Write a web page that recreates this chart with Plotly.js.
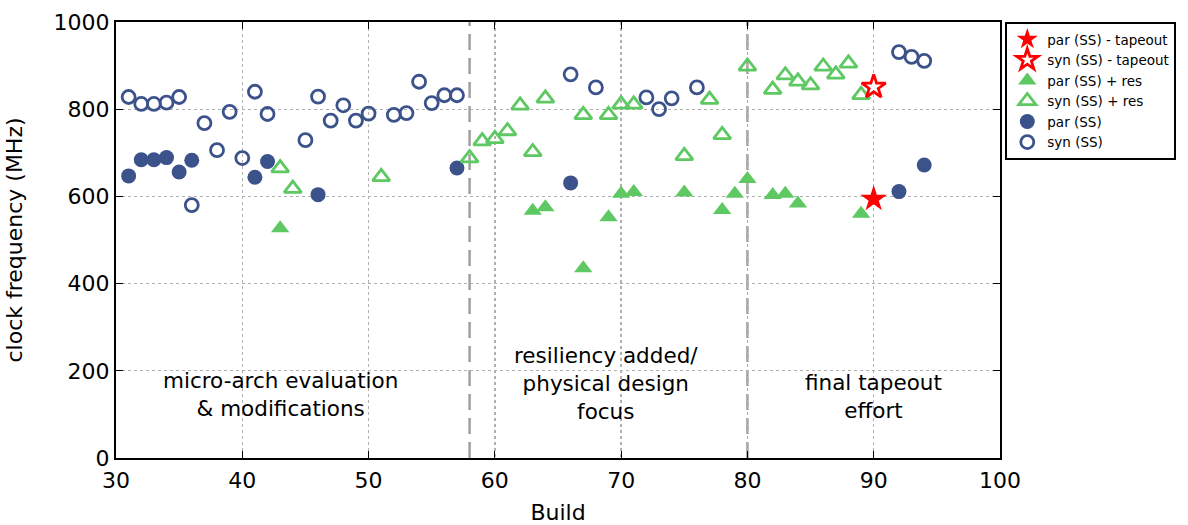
<!DOCTYPE html>
<html>
<head>
<meta charset="utf-8">
<script src="https://cdn.plot.ly/plotly-3.0.1.min.js"></script>
<style>html,body{margin:0;padding:0;background:#fff;}#chart{width:1188px;height:525px;}</style>
</head>
<body>
<div id="chart"></div>
<script>
// ---- data ----
const synBuild = [31,32,33,34,35,36,37,38,39,40,41,42,45,46,47,48,49,50,52,53,54,55,56,57,66,68,72,73,74,76,92,93,94];
const synFreq  = [828,812,812,815,828,580,768,706,794,688,840,789,729,829,774,809,774,790,787,791,863,814,832,832,880,850,827,800,825,850,931,920,911];

const parBuild = [31,32,33,34,35,36,41,42,46,57,66,92,94];
const parFreq  = [647,684,684,689,656,683,644,680,604,665,631,611,672];

const synResBuild = [43,44,51,58,59,60,61,62,63,64,67,69,70,71,75,77,78,80,82,83,84,85,86,87,88,89];
const synResFreq  = [665,618,645,688,727,732,750,809,702,825,787,787,811,811,693,822,741,898,845,878,864,855,898,880,905,833];

const parResBuild = [43,63,64,67,69,70,71,75,78,79,80,82,83,84,89];
const parResFreq  = [527,567,575,435,552,606,610,609,569,606,640,603,606,584,560];

const parTapeBuild = [90];
const parTapeFreq  = [594];
const synTapeBuild = [90];
const synTapeFreq  = [851];

const phaseBoundaries = [58, 80];
const phaseLabels = ["micro-arch evaluation<br>&amp; modifications", "resiliency added/<br>physical design<br>focus", "final tapeout<br>effort"];
const phaseLabelX = [43, 68.8, 90];
const phaseLabelY = [145, 170, 140];

const xTicks = [30,40,50,60,70,80,90,100];
const yTicks = [0,200,400,600,800,1000];

// ---- styles ----
const BLUE = '#3B528B';
const GREEN = '#5EC962';
const RED = '#FF0000';
const FONT = 'DejaVu Sans, sans-serif';

const traces = [
  {x: synBuild, y: synFreq, name: 'syn (SS)', legendrank: 6, mode: 'markers', type: 'scatter',
   marker: {symbol: 'circle-open', size: 13, color: BLUE, line: {width: 2.8, color: BLUE}}},
  {x: parBuild, y: parFreq, name: 'par (SS)', legendrank: 5, mode: 'markers', type: 'scatter',
   marker: {symbol: 'circle', size: 15, color: BLUE}},
  {x: synResBuild, y: synResFreq, name: 'syn (SS) + res', legendrank: 4, mode: 'markers', type: 'scatter',
   marker: {symbol: 'triangle-up-open', size: 15, color: GREEN, line: {width: 2.8, color: GREEN}}},
  {x: parResBuild, y: parResFreq, name: 'par (SS) + res', legendrank: 3, mode: 'markers', type: 'scatter',
   marker: {symbol: 'triangle-up', size: 16, color: GREEN}},
  {x: synTapeBuild, y: synTapeFreq, name: 'syn (SS) - tapeout', legendrank: 2, mode: 'markers', type: 'scatter',
   marker: {symbol: 'star', size: 18, color: '#ffffff', line: {width: 2.8, color: RED}}},
  {x: parTapeBuild, y: parTapeFreq, name: 'par (SS) - tapeout', legendrank: 1, mode: 'markers', type: 'scatter',
   marker: {symbol: 'star', size: 20, color: RED}}
];

const shapes = phaseBoundaries.map(b => ({
  type: 'line', xref: 'x', yref: 'paper', x0: b, x1: b, y0: 0, y1: 1,
  line: {color: '#a0a0a0', width: 2.5, dash: '16px,8px'}, layer: 'below'
}));

const annotations = phaseLabels.map((t, i) => ({
  text: t, x: phaseLabelX[i], y: phaseLabelY[i], xref: 'x', yref: 'y',
  showarrow: false, xanchor: 'center', yanchor: 'middle', align: 'center',
  font: {family: FONT, size: 21.5, color: '#000'}
}));

const axisCommon = {
  showline: true, linecolor: '#000', linewidth: 2, mirror: 'ticks',
  ticks: 'inside', ticklen: 7, tickwidth: 1.2, tickcolor: '#000',
  showgrid: true, gridcolor: '#b0b0b0', gridwidth: 1.3, griddash: 'dot',
  zeroline: false, tickfont: {family: FONT, size: 22, color: '#000'}
};

const layout = {
  width: 1188, height: 525,
  margin: {l: 116, r: 188, t: 22, b: 67, autoexpand: false},
  paper_bgcolor: '#fff', plot_bgcolor: '#fff',
  font: {family: FONT, color: '#000'},
  xaxis: Object.assign({}, axisCommon, {
    range: [30, 100], tickvals: xTicks, ticktext: xTicks.map(String),
    ticklabelstandoff: 2,
    title: {text: 'Build', font: {family: FONT, size: 22, color: '#000'}, standoff: 12}
  }),
  yaxis: Object.assign({}, axisCommon, {
    range: [0, 1000], tickvals: yTicks, ticktext: yTicks.map(String),
    title: {text: 'clock frequency (MHz)', font: {family: FONT, size: 22, color: '#000'}, standoff: 25}
  }),
  legend: {
    x: 1.006, xanchor: 'left', y: 1, yanchor: 'top',
    bordercolor: '#000', borderwidth: 2, bgcolor: '#fff',
    font: {family: FONT, size: 13.5, color: '#000'}, traceorder: 'normal'
  },
  shapes: shapes,
  annotations: annotations,
  showlegend: true
};

Plotly.newPlot('chart', traces, layout, {displayModeBar: false, staticPlot: true});
</script>
</body>
</html>
